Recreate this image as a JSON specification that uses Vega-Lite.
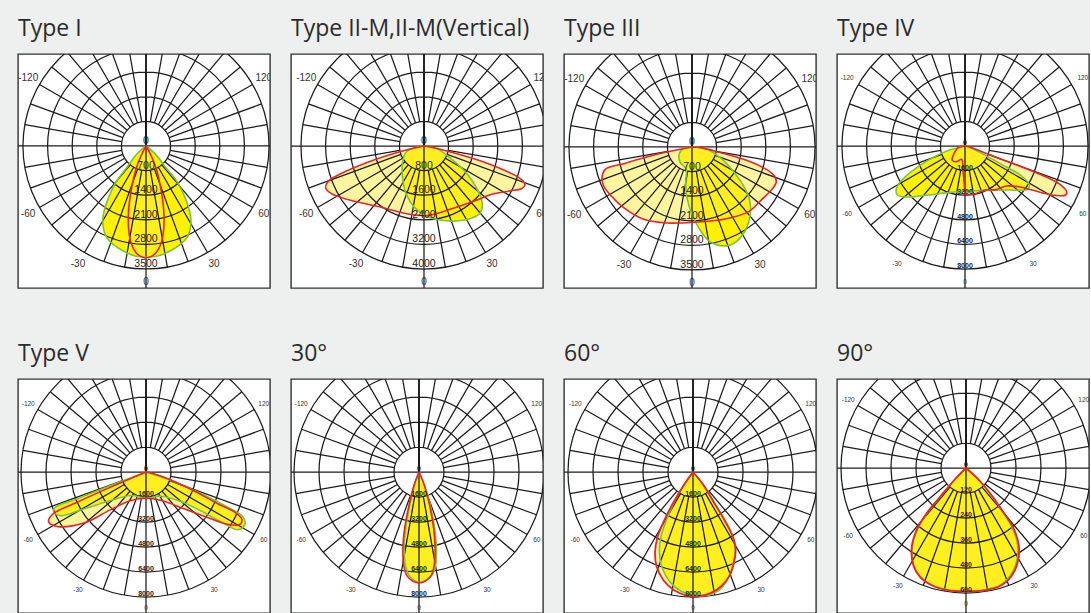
{
"$schema": "https://vega.github.io/schema/vega-lite/v6.json",
"background": "#eeefef",
"padding": {"left": 17, "top": 17, "right": 0, "bottom": 0},
"columns": 4,
"spacing": {"row": 53, "column": 19},
"resolve": {"scale": {"x": "independent", "y": "independent", "theta": "independent", "radius": "independent"}},
"config": {
  "view": {"stroke": "#333333", "strokeWidth": 1.4, "fill": "white"},
  "title": {"anchor": "start", "frame": "group", "fontSize": 23, "font": "Open Sans", "fontWeight": "normal", "color": "#2b2b2b", "offset": 13},
  "text": {"font": "Liberation Sans"}
},
"datasets": {
  "rings": [{"k": 1}, {"k": 2}, {"k": 3}, {"k": 4}, {"k": 5}],
  "spokes": [
    {"a": 0, "r0": 0, "r1": 10}, {"a": 10, "r0": 1, "r1": 5}, {"a": 20, "r0": 1, "r1": 5}, {"a": 30, "r0": 1, "r1": 5}, {"a": 40, "r0": 1, "r1": 5}, {"a": 50, "r0": 1, "r1": 5}, {"a": 60, "r0": 1, "r1": 5}, {"a": 70, "r0": 1, "r1": 5}, {"a": 80, "r0": 1, "r1": 5},
    {"a": 90, "r0": 0, "r1": 10}, {"a": 100, "r0": 1, "r1": 5}, {"a": 110, "r0": 1, "r1": 5}, {"a": 120, "r0": 1, "r1": 5}, {"a": 130, "r0": 1, "r1": 5}, {"a": 140, "r0": 1, "r1": 5}, {"a": 150, "r0": 1, "r1": 5}, {"a": 160, "r0": 1, "r1": 5}, {"a": 170, "r0": 1, "r1": 5},
    {"a": 180, "r0": 0, "r1": 10}, {"a": 190, "r0": 1, "r1": 5}, {"a": 200, "r0": 1, "r1": 5}, {"a": 210, "r0": 1, "r1": 5}, {"a": 220, "r0": 1, "r1": 5}, {"a": 230, "r0": 1, "r1": 5}, {"a": 240, "r0": 1, "r1": 5}, {"a": 250, "r0": 1, "r1": 5}, {"a": 260, "r0": 1, "r1": 5},
    {"a": 270, "r0": 0, "r1": 10}, {"a": 280, "r0": 1, "r1": 5}, {"a": 290, "r0": 1, "r1": 5}, {"a": 300, "r0": 1, "r1": 5}, {"a": 310, "r0": 1, "r1": 5}, {"a": 320, "r0": 1, "r1": 5}, {"a": 330, "r0": 1, "r1": 5}, {"a": 340, "r0": 1, "r1": 5}, {"a": 350, "r0": 1, "r1": 5}
  ],
  "alabels": [
    {"t": "0", "a": 180}, {"t": "-30", "a": 210}, {"t": "30", "a": 150}, {"t": "-60", "a": 240}, {"t": "60", "a": 120},
    {"t": "-120", "a": 300}, {"t": "120", "a": 60}
  ],
  "rlabels": [
    {"p": "I", "k": 0, "t": "0"}, {"p": "I", "k": 1, "t": "700"}, {"p": "I", "k": 2, "t": "1400"}, {"p": "I", "k": 3, "t": "2100"}, {"p": "I", "k": 4, "t": "2800"}, {"p": "I", "k": 5, "t": "3500"},
    {"p": "II", "k": 0, "t": "0"}, {"p": "II", "k": 1, "t": "800"}, {"p": "II", "k": 2, "t": "1600"}, {"p": "II", "k": 3, "t": "2400"}, {"p": "II", "k": 4, "t": "3200"}, {"p": "II", "k": 5, "t": "4000"},
    {"p": "III", "k": 0, "t": "0"}, {"p": "III", "k": 1, "t": "700"}, {"p": "III", "k": 2, "t": "1400"}, {"p": "III", "k": 3, "t": "2100"}, {"p": "III", "k": 4, "t": "2800"}, {"p": "III", "k": 5, "t": "3500"},
    {"p": "IV", "k": 0, "t": "0"}, {"p": "IV", "k": 1, "t": "1600"}, {"p": "IV", "k": 2, "t": "3200"}, {"p": "IV", "k": 3, "t": "4800"}, {"p": "IV", "k": 4, "t": "6400"}, {"p": "IV", "k": 5, "t": "8000"},
    {"p": "V", "k": 0, "t": "0"}, {"p": "V", "k": 1, "t": "1600"}, {"p": "V", "k": 2, "t": "3200"}, {"p": "V", "k": 3, "t": "4800"}, {"p": "V", "k": 4, "t": "6400"}, {"p": "V", "k": 5, "t": "8000"},
    {"p": "30", "k": 0, "t": "0"}, {"p": "30", "k": 1, "t": "1600"}, {"p": "30", "k": 2, "t": "3200"}, {"p": "30", "k": 3, "t": "4800"}, {"p": "30", "k": 4, "t": "6400"}, {"p": "30", "k": 5, "t": "8000"},
    {"p": "60", "k": 0, "t": "0"}, {"p": "60", "k": 1, "t": "1600"}, {"p": "60", "k": 2, "t": "3200"}, {"p": "60", "k": 3, "t": "4800"}, {"p": "60", "k": 4, "t": "6400"}, {"p": "60", "k": 5, "t": "8000"},
    {"p": "90", "k": 0, "t": "0"}, {"p": "90", "k": 1, "t": "120"}, {"p": "90", "k": 2, "t": "240"}, {"p": "90", "k": 3, "t": "360"}, {"p": "90", "k": 4, "t": "480"}, {"p": "90", "k": 5, "t": "600"}
  ],
  "curves": [
    {"p":"I","s":"g","x":0,"y":0},{"p":"I","s":"g","x":-266,"y":-237},{"p":"I","s":"g","x":-550,"y":-617},{"p":"I","s":"g","x":-835,"y":-996},{"p":"I","s":"g","x":-1024,"y":-1375},{"p":"I","s":"g","x":-1167,"y":-1755},{"p":"I","s":"g","x":-1233,"y":-2134},{"p":"I","s":"g","x":-1195,"y":-2419},{"p":"I","s":"g","x":-1119,"y":-2608},{"p":"I","s":"g","x":-930,"y":-2798},{"p":"I","s":"g","x":-645,"y":-2988},{"p":"I","s":"g","x":-313,"y":-3130},{"p":"I","s":"g","x":0,"y":-3159},{"p":"I","s":"g","x":332,"y":-3130},{"p":"I","s":"g","x":683,"y":-2988},{"p":"I","s":"g","x":977,"y":-2798},{"p":"I","s":"g","x":1167,"y":-2608},{"p":"I","s":"g","x":1243,"y":-2419},{"p":"I","s":"g","x":1280,"y":-2134},{"p":"I","s":"g","x":1214,"y":-1755},{"p":"I","s":"g","x":1072,"y":-1375},{"p":"I","s":"g","x":873,"y":-996},{"p":"I","s":"g","x":569,"y":-617},{"p":"I","s":"g","x":275,"y":-237},{"p":"I","s":"g","x":0,"y":0},
    {"p":"I","s":"r","x":0,"y":0},{"p":"I","s":"r","x":-142,"y":-285},{"p":"I","s":"r","x":-285,"y":-664},{"p":"I","s":"r","x":-398,"y":-1138},{"p":"I","s":"r","x":-474,"y":-1612},{"p":"I","s":"r","x":-503,"y":-1992},{"p":"I","s":"r","x":-493,"y":-2371},{"p":"I","s":"r","x":-427,"y":-2751},{"p":"I","s":"r","x":-285,"y":-3035},{"p":"I","s":"r","x":-142,"y":-3149},{"p":"I","s":"r","x":0,"y":-3187},{"p":"I","s":"r","x":142,"y":-3149},{"p":"I","s":"r","x":285,"y":-3035},{"p":"I","s":"r","x":436,"y":-2751},{"p":"I","s":"r","x":503,"y":-2371},{"p":"I","s":"r","x":512,"y":-1992},{"p":"I","s":"r","x":484,"y":-1612},{"p":"I","s":"r","x":408,"y":-1138},{"p":"I","s":"r","x":294,"y":-664},{"p":"I","s":"r","x":152,"y":-285},{"p":"I","s":"r","x":0,"y":0},
    {"p":"II","s":"r","x":0,"y":0},{"p":"II","s":"r","x":-791,"y":-184},{"p":"II","s":"r","x":-1875,"y":-542},{"p":"II","s":"r","x":-2743,"y":-921},{"p":"II","s":"r","x":-3122,"y":-1160},{"p":"II","s":"r","x":-3198,"y":-1355},{"p":"II","s":"r","x":-3014,"y":-1550},{"p":"II","s":"r","x":-2417,"y":-1756},{"p":"II","s":"r","x":-1333,"y":-2005},{"p":"II","s":"r","x":-466,"y":-2222},{"p":"II","s":"r","x":76,"y":-2266},{"p":"II","s":"r","x":618,"y":-2135},{"p":"II","s":"r","x":1268,"y":-1919},{"p":"II","s":"r","x":1702,"y":-1767},{"p":"II","s":"r","x":2135,"y":-1593},{"p":"II","s":"r","x":2786,"y":-1463},{"p":"II","s":"r","x":3165,"y":-1388},{"p":"II","s":"r","x":3285,"y":-1268},{"p":"II","s":"r","x":3165,"y":-1084},{"p":"II","s":"r","x":2786,"y":-867},{"p":"II","s":"r","x":1919,"y":-509},{"p":"II","s":"r","x":835,"y":-184},{"p":"II","s":"r","x":184,"y":-22},{"p":"II","s":"r","x":0,"y":0},
    {"p":"II","s":"g","x":0,"y":0},{"p":"II","s":"g","x":-304,"y":-54},{"p":"II","s":"g","x":-596,"y":-217},{"p":"II","s":"g","x":-705,"y":-596},{"p":"II","s":"g","x":-683,"y":-1138},{"p":"II","s":"g","x":-575,"y":-1572},{"p":"II","s":"g","x":-304,"y":-2005},{"p":"II","s":"g","x":76,"y":-2276},{"p":"II","s":"g","x":509,"y":-2406},{"p":"II","s":"g","x":1051,"y":-2439},{"p":"II","s":"g","x":1539,"y":-2352},{"p":"II","s":"g","x":1832,"y":-2168},{"p":"II","s":"g","x":1897,"y":-1897},{"p":"II","s":"g","x":1810,"y":-1572},{"p":"II","s":"g","x":1572,"y":-1138},{"p":"II","s":"g","x":1268,"y":-759},{"p":"II","s":"g","x":835,"y":-379},{"p":"II","s":"g","x":455,"y":-108},{"p":"II","s":"g","x":0,"y":0},
    {"p":"III","s":"r","x":0,"y":0},{"p":"III","s":"r","x":-996,"y":-209},{"p":"III","s":"r","x":-1944,"y":-474},{"p":"III","s":"r","x":-2466,"y":-636},{"p":"III","s":"r","x":-2561,"y":-873},{"p":"III","s":"r","x":-2514,"y":-1110},{"p":"III","s":"r","x":-2324,"y":-1366},{"p":"III","s":"r","x":-1944,"y":-1726},{"p":"III","s":"r","x":-1375,"y":-2058},{"p":"III","s":"r","x":-711,"y":-2163},{"p":"III","s":"r","x":142,"y":-2134},{"p":"III","s":"r","x":901,"y":-2058},{"p":"III","s":"r","x":1612,"y":-1840},{"p":"III","s":"r","x":1992,"y":-1489},{"p":"III","s":"r","x":2276,"y":-1205},{"p":"III","s":"r","x":2400,"y":-986},{"p":"III","s":"r","x":2305,"y":-778},{"p":"III","s":"r","x":1992,"y":-569},{"p":"III","s":"r","x":1470,"y":-351},{"p":"III","s":"r","x":711,"y":-133},{"p":"III","s":"r","x":237,"y":-19},{"p":"III","s":"r","x":0,"y":0},
    {"p":"III","s":"g","x":0,"y":0},{"p":"III","s":"g","x":-237,"y":-38},{"p":"III","s":"g","x":-370,"y":-209},{"p":"III","s":"g","x":-332,"y":-446},{"p":"III","s":"g","x":-161,"y":-636},{"p":"III","s":"g","x":-180,"y":-967},{"p":"III","s":"g","x":-142,"y":-1442},{"p":"III","s":"g","x":0,"y":-1916},{"p":"III","s":"g","x":237,"y":-2371},{"p":"III","s":"g","x":522,"y":-2703},{"p":"III","s":"g","x":996,"y":-2808},{"p":"III","s":"g","x":1280,"y":-2675},{"p":"III","s":"g","x":1518,"y":-2371},{"p":"III","s":"g","x":1660,"y":-1916},{"p":"III","s":"g","x":1641,"y":-1518},{"p":"III","s":"g","x":1451,"y":-1081},{"p":"III","s":"g","x":1167,"y":-683},{"p":"III","s":"g","x":806,"y":-304},{"p":"III","s":"g","x":427,"y":-66},{"p":"III","s":"g","x":142,"y":0},{"p":"III","s":"g","x":0,"y":0},
    {"p":"IV","s":"g","x":0,"y":0},{"p":"IV","s":"g","x":-1301,"y":-369},{"p":"IV","s":"g","x":-2818,"y":-1192},{"p":"IV","s":"g","x":-3902,"y":-2016},{"p":"IV","s":"g","x":-4444,"y":-2710},{"p":"IV","s":"g","x":-4401,"y":-3187},{"p":"IV","s":"g","x":-3686,"y":-3317},{"p":"IV","s":"g","x":-2385,"y":-3187},{"p":"IV","s":"g","x":-1084,"y":-3035},{"p":"IV","s":"g","x":217,"y":-2927},{"p":"IV","s":"g","x":1518,"y":-2883},{"p":"IV","s":"g","x":2818,"y":-2862},{"p":"IV","s":"g","x":4076,"y":-2818},{"p":"IV","s":"g","x":4184,"y":-2537},{"p":"IV","s":"g","x":3686,"y":-1951},{"p":"IV","s":"g","x":2385,"y":-1192},{"p":"IV","s":"g","x":1084,"y":-477},{"p":"IV","s":"g","x":217,"y":-43},{"p":"IV","s":"g","x":0,"y":0},
    {"p":"IV","s":"r","x":0,"y":0},{"p":"IV","s":"r","x":-434,"y":-108},{"p":"IV","s":"r","x":-780,"y":-650},{"p":"IV","s":"r","x":-824,"y":-932},{"p":"IV","s":"r","x":-542,"y":-1019},{"p":"IV","s":"r","x":-217,"y":-867},{"p":"IV","s":"r","x":-130,"y":-1626},{"p":"IV","s":"r","x":-43,"y":-2493},{"p":"IV","s":"r","x":43,"y":-3144},{"p":"IV","s":"r","x":650,"y":-3100},{"p":"IV","s":"r","x":1301,"y":-2862},{"p":"IV","s":"r","x":1951,"y":-2840},{"p":"IV","s":"r","x":2710,"y":-2602},{"p":"IV","s":"r","x":3469,"y":-2645},{"p":"IV","s":"r","x":4119,"y":-2797},{"p":"IV","s":"r","x":4986,"y":-3035},{"p":"IV","s":"r","x":5854,"y":-3209},{"p":"IV","s":"r","x":6547,"y":-3187},{"p":"IV","s":"r","x":6612,"y":-2970},{"p":"IV","s":"r","x":6179,"y":-2493},{"p":"IV","s":"r","x":4986,"y":-1886},{"p":"IV","s":"r","x":3252,"y":-1192},{"p":"IV","s":"r","x":1518,"y":-542},{"p":"IV","s":"r","x":434,"y":-108},{"p":"IV","s":"r","x":0,"y":0},
    {"p":"V","s":"g","x":0,"y":0},{"p":"V","s":"g","x":-2258,"y":-860},{"p":"V","s":"g","x":-4408,"y":-1720},{"p":"V","s":"g","x":-5805,"y":-2258},{"p":"V","s":"g","x":-5913,"y":-2537},{"p":"V","s":"g","x":-5483,"y":-2795},{"p":"V","s":"g","x":-3978,"y":-2365},{"p":"V","s":"g","x":-2258,"y":-1828},{"p":"V","s":"g","x":-968,"y":-1505},{"p":"V","s":"g","x":0,"y":-1677},{"p":"V","s":"g","x":968,"y":-1548},{"p":"V","s":"g","x":2473,"y":-1978},{"p":"V","s":"g","x":3763,"y":-2623},{"p":"V","s":"g","x":5053,"y":-3333},{"p":"V","s":"g","x":5913,"y":-3698},{"p":"V","s":"g","x":6343,"y":-3333},{"p":"V","s":"g","x":6171,"y":-2838},{"p":"V","s":"g","x":5053,"y":-2150},{"p":"V","s":"g","x":3333,"y":-1290},{"p":"V","s":"g","x":1613,"y":-538},{"p":"V","s":"g","x":323,"y":-108},{"p":"V","s":"g","x":0,"y":0},
    {"p":"V","s":"r","x":0,"y":0},{"p":"V","s":"r","x":-2258,"y":-968},{"p":"V","s":"r","x":-4408,"y":-1935},{"p":"V","s":"r","x":-5956,"y":-2688},{"p":"V","s":"r","x":-6235,"y":-3182},{"p":"V","s":"r","x":-5698,"y":-3483},{"p":"V","s":"r","x":-3978,"y":-3268},{"p":"V","s":"r","x":-2258,"y":-2408},{"p":"V","s":"r","x":-968,"y":-1828},{"p":"V","s":"r","x":0,"y":-1677},{"p":"V","s":"r","x":968,"y":-1828},{"p":"V","s":"r","x":2473,"y":-2365},{"p":"V","s":"r","x":4193,"y":-3010},{"p":"V","s":"r","x":5268,"y":-3354},{"p":"V","s":"r","x":6020,"y":-3354},{"p":"V","s":"r","x":6128,"y":-3010},{"p":"V","s":"r","x":5698,"y":-2580},{"p":"V","s":"r","x":4623,"y":-2043},{"p":"V","s":"r","x":2903,"y":-1118},{"p":"V","s":"r","x":1398,"y":-430},{"p":"V","s":"r","x":323,"y":-65},{"p":"V","s":"r","x":0,"y":0},
    {"p":"30","s":"r","x":0,"y":0},{"p":"30","s":"r","x":-323,"y":-860},{"p":"30","s":"r","x":-645,"y":-2150},{"p":"30","s":"r","x":-925,"y":-3655},{"p":"30","s":"r","x":-1032,"y":-4945},{"p":"30","s":"r","x":-968,"y":-6020},{"p":"30","s":"r","x":-753,"y":-6665},{"p":"30","s":"r","x":-387,"y":-6988},{"p":"30","s":"r","x":0,"y":-7095},{"p":"30","s":"r","x":387,"y":-6988},{"p":"30","s":"r","x":753,"y":-6665},{"p":"30","s":"r","x":968,"y":-6020},{"p":"30","s":"r","x":1032,"y":-4945},{"p":"30","s":"r","x":946,"y":-3655},{"p":"30","s":"r","x":688,"y":-2150},{"p":"30","s":"r","x":344,"y":-860},{"p":"30","s":"r","x":0,"y":0},
    {"p":"30","s":"g","x":0,"y":0},{"p":"30","s":"g","x":-301,"y":-860},{"p":"30","s":"g","x":-602,"y":-2150},{"p":"30","s":"g","x":-860,"y":-3655},{"p":"30","s":"g","x":-946,"y":-4945},{"p":"30","s":"g","x":-860,"y":-6020},{"p":"30","s":"g","x":-602,"y":-6665},{"p":"30","s":"g","x":-215,"y":-6988},{"p":"30","s":"g","x":108,"y":-7052},{"p":"30","s":"g","x":473,"y":-6923},{"p":"30","s":"g","x":860,"y":-6558},{"p":"30","s":"g","x":1075,"y":-5913},{"p":"30","s":"g","x":1118,"y":-4945},{"p":"30","s":"g","x":1011,"y":-3655},{"p":"30","s":"g","x":731,"y":-2150},{"p":"30","s":"g","x":366,"y":-860},{"p":"30","s":"g","x":0,"y":0},
    {"p":"60","s":"r","x":0,"y":0},{"p":"60","s":"r","x":-602,"y":-860},{"p":"60","s":"r","x":-1247,"y":-1935},{"p":"60","s":"r","x":-1849,"y":-3118},{"p":"60","s":"r","x":-2279,"y":-4193},{"p":"60","s":"r","x":-2430,"y":-5160},{"p":"60","s":"r","x":-2322,"y":-6063},{"p":"60","s":"r","x":-1892,"y":-6923},{"p":"60","s":"r","x":-1204,"y":-7568},{"p":"60","s":"r","x":-387,"y":-7912},{"p":"60","s":"r","x":366,"y":-7955},{"p":"60","s":"r","x":1161,"y":-7740},{"p":"60","s":"r","x":1806,"y":-7310},{"p":"60","s":"r","x":2322,"y":-6665},{"p":"60","s":"r","x":2623,"y":-5805},{"p":"60","s":"r","x":2731,"y":-4945},{"p":"60","s":"r","x":2516,"y":-4042},{"p":"60","s":"r","x":1978,"y":-3010},{"p":"60","s":"r","x":1333,"y":-1935},{"p":"60","s":"r","x":688,"y":-860},{"p":"60","s":"r","x":0,"y":0},
    {"p":"60","s":"g","x":0,"y":0},{"p":"60","s":"g","x":-602,"y":-860},{"p":"60","s":"g","x":-1204,"y":-1935},{"p":"60","s":"g","x":-1720,"y":-3118},{"p":"60","s":"g","x":-2064,"y":-4193},{"p":"60","s":"g","x":-2150,"y":-5160},{"p":"60","s":"g","x":-1978,"y":-6128},{"p":"60","s":"g","x":-1505,"y":-6988},{"p":"60","s":"g","x":-753,"y":-7633},{"p":"60","s":"g","x":215,"y":-7912},{"p":"60","s":"g","x":1075,"y":-7848},{"p":"60","s":"g","x":1720,"y":-7525},{"p":"60","s":"g","x":2150,"y":-6988},{"p":"60","s":"g","x":2473,"y":-6235},{"p":"60","s":"g","x":2666,"y":-5375},{"p":"60","s":"g","x":2688,"y":-4730},{"p":"60","s":"g","x":2473,"y":-3978},{"p":"60","s":"g","x":1978,"y":-3010},{"p":"60","s":"g","x":1333,"y":-1935},{"p":"60","s":"g","x":688,"y":-860},{"p":"60","s":"g","x":0,"y":0},
    {"p":"90","s":"r","x":0,"y":0},{"p":"90","s":"r","x":-53,"y":-54},{"p":"90","s":"r","x":-125,"y":-139},{"p":"90","s":"r","x":-194,"y":-224},{"p":"90","s":"r","x":-240,"y":-304},{"p":"90","s":"r","x":-261,"y":-387},{"p":"90","s":"r","x":-253,"y":-467},{"p":"90","s":"r","x":-221,"y":-523},{"p":"90","s":"r","x":-165,"y":-563},{"p":"90","s":"r","x":-85,"y":-587},{"p":"90","s":"r","x":0,"y":-592},{"p":"90","s":"r","x":91,"y":-587},{"p":"90","s":"r","x":171,"y":-563},{"p":"90","s":"r","x":219,"y":-518},{"p":"90","s":"r","x":248,"y":-454},{"p":"90","s":"r","x":254,"y":-374},{"p":"90","s":"r","x":229,"y":-291},{"p":"90","s":"r","x":179,"y":-211},{"p":"90","s":"r","x":123,"y":-131},{"p":"90","s":"r","x":59,"y":-54},{"p":"90","s":"r","x":0,"y":0},
    {"p":"90","s":"g","x":0,"y":0},{"p":"90","s":"g","x":-52,"y":-54},{"p":"90","s":"g","x":-124,"y":-139},{"p":"90","s":"g","x":-192,"y":-224},{"p":"90","s":"g","x":-238,"y":-304},{"p":"90","s":"g","x":-259,"y":-387},{"p":"90","s":"g","x":-251,"y":-467},{"p":"90","s":"g","x":-219,"y":-523},{"p":"90","s":"g","x":-163,"y":-563},{"p":"90","s":"g","x":-84,"y":-586},{"p":"90","s":"g","x":0,"y":-590},{"p":"90","s":"g","x":89,"y":-585},{"p":"90","s":"g","x":167,"y":-561},{"p":"90","s":"g","x":213,"y":-516},{"p":"90","s":"g","x":242,"y":-452},{"p":"90","s":"g","x":248,"y":-374},{"p":"90","s":"g","x":224,"y":-291},{"p":"90","s":"g","x":176,"y":-211},{"p":"90","s":"g","x":121,"y":-131},{"p":"90","s":"g","x":58,"y":-54},{"p":"90","s":"g","x":0,"y":0}
  ]
},
"concat": [
{"title": {"text": "Type I"}, "width": 252, "height": 234, "layer": [
 {"data": {"name": "curves"}, "transform": [{"filter": "datum.p=='I' && datum.s=='g'"}], "mark": {"type": "line", "fill": "#fff200", "strokeOpacity": 0, "interpolate": "catmull-rom", "clip": true},
  "encoding": {"x": {"field": "x", "type": "quantitative", "scale": {"domain": [-3642, 3528], "nice": false, "zero": false}, "axis": null}, "y": {"field": "y", "type": "quantitative", "scale": {"domain": [-4041, 2618], "nice": false, "zero": false}, "axis": null}, "order": {"value": null}}},
 {"data": {"name": "curves"}, "transform": [{"filter": "datum.p=='I' && datum.s=='r'"}], "mark": {"type": "line", "fill": "#ffec3d", "fillOpacity": 0.5, "strokeOpacity": 0, "interpolate": "catmull-rom", "clip": true},
  "encoding": {"x": {"field": "x", "type": "quantitative"}, "y": {"field": "y", "type": "quantitative"}, "order": {"value": null}}},
 {"data": {"name": "rings"}, "mark": {"type": "arc", "filled": false, "stroke": "#1e1b1c", "strokeWidth": 1.25, "clip": true},
  "encoding": {"x": {"datum": 0}, "y": {"datum": 0}, "theta": {"datum": 0, "scale": {"domain": [0, 360], "range": [0, 6.283185]}}, "theta2": {"datum": 360}, "radius": {"field": "k", "type": "quantitative", "stack": null, "scale": {"type": "linear", "domain": [0, 5], "range": [0, 123], "zero": true, "nice": false}}}},
 {"data": {"name": "spokes"}, "mark": {"type": "arc", "filled": false, "stroke": "#1e1b1c", "strokeWidth": 1.25, "clip": true},
  "encoding": {"x": {"datum": 0}, "y": {"datum": 0}, "theta": {"field": "a", "type": "quantitative", "stack": null}, "theta2": {"field": "a"}, "radius": {"field": "r1", "type": "quantitative", "stack": null}, "radius2": {"field": "r0"}}},
 {"data": {"name": "curves"}, "transform": [{"filter": "datum.p=='I' && datum.s=='g'"}], "mark": {"type": "line", "color": "#7cc242", "strokeWidth": 1.6, "interpolate": "catmull-rom", "clip": true},
  "encoding": {"x": {"field": "x", "type": "quantitative"}, "y": {"field": "y", "type": "quantitative"}, "order": {"value": null}}},
 {"data": {"name": "curves"}, "transform": [{"filter": "datum.p=='I' && datum.s=='r'"}], "mark": {"type": "line", "color": "#e8232a", "strokeWidth": 1.6, "interpolate": "catmull-rom", "clip": true},
  "encoding": {"x": {"field": "x", "type": "quantitative"}, "y": {"field": "y", "type": "quantitative"}, "order": {"value": null}}},
 {"data": {"name": "alabels"}, "mark": {"type": "text", "fontSize": 10, "color": "#333333", "clip": true},
  "encoding": {"x": {"datum": 0}, "y": {"datum": 0}, "theta": {"field": "a", "type": "quantitative", "stack": null}, "radius": {"datum": 5.53}, "text": {"field": "t"}}},
 {"data": {"name": "rlabels"}, "transform": [{"filter": "datum.p=='I'"}], "mark": {"type": "text", "fontSize": 10.5, "baseline": "bottom", "color": "#222222", "clip": true},
  "encoding": {"x": {"datum": 0}, "y": {"datum": 0}, "theta": {"datum": 180}, "radius": {"field": "k", "type": "quantitative", "stack": null}, "text": {"field": "t"}}}
]},
{"title": {"text": "Type II-M,II-M(Vertical)"}, "width": 252, "height": 234, "layer": [
 {"data": {"name": "curves"}, "transform": [{"filter": "datum.p=='II' && datum.s=='g'"}], "mark": {"type": "line", "fill": "#fff200", "strokeOpacity": 0, "interpolate": "catmull-rom", "clip": true},
  "encoding": {"x": {"field": "x", "type": "quantitative", "scale": {"domain": [-4325, 3870], "nice": false, "zero": false}, "axis": null}, "y": {"field": "y", "type": "quantitative", "scale": {"domain": [-4618, 2992], "nice": false, "zero": false}, "axis": null}, "order": {"value": null}}},
 {"data": {"name": "curves"}, "transform": [{"filter": "datum.p=='II' && datum.s=='r'"}], "mark": {"type": "line", "fill": "#ffec3d", "fillOpacity": 0.5, "strokeOpacity": 0, "interpolate": "catmull-rom", "clip": true},
  "encoding": {"x": {"field": "x", "type": "quantitative"}, "y": {"field": "y", "type": "quantitative"}, "order": {"value": null}}},
 {"data": {"name": "rings"}, "mark": {"type": "arc", "filled": false, "stroke": "#1e1b1c", "strokeWidth": 1.25, "clip": true},
  "encoding": {"x": {"datum": 0}, "y": {"datum": 0}, "theta": {"datum": 0, "scale": {"domain": [0, 360], "range": [0, 6.283185]}}, "theta2": {"datum": 360}, "radius": {"field": "k", "type": "quantitative", "stack": null, "scale": {"type": "linear", "domain": [0, 5], "range": [0, 123], "zero": true, "nice": false}}}},
 {"data": {"name": "spokes"}, "mark": {"type": "arc", "filled": false, "stroke": "#1e1b1c", "strokeWidth": 1.25, "clip": true},
  "encoding": {"x": {"datum": 0}, "y": {"datum": 0}, "theta": {"field": "a", "type": "quantitative", "stack": null}, "theta2": {"field": "a"}, "radius": {"field": "r1", "type": "quantitative", "stack": null}, "radius2": {"field": "r0"}}},
 {"data": {"name": "curves"}, "transform": [{"filter": "datum.p=='II' && datum.s=='g'"}], "mark": {"type": "line", "color": "#7cc242", "strokeWidth": 1.6, "interpolate": "catmull-rom", "clip": true},
  "encoding": {"x": {"field": "x", "type": "quantitative"}, "y": {"field": "y", "type": "quantitative"}, "order": {"value": null}}},
 {"data": {"name": "curves"}, "transform": [{"filter": "datum.p=='II' && datum.s=='r'"}], "mark": {"type": "line", "color": "#e8232a", "strokeWidth": 1.6, "interpolate": "catmull-rom", "clip": true},
  "encoding": {"x": {"field": "x", "type": "quantitative"}, "y": {"field": "y", "type": "quantitative"}, "order": {"value": null}}},
 {"data": {"name": "alabels"}, "mark": {"type": "text", "fontSize": 10, "color": "#333333", "clip": true},
  "encoding": {"x": {"datum": 0}, "y": {"datum": 0}, "theta": {"field": "a", "type": "quantitative", "stack": null}, "radius": {"datum": 5.53}, "text": {"field": "t"}}},
 {"data": {"name": "rlabels"}, "transform": [{"filter": "datum.p=='II'"}], "mark": {"type": "text", "fontSize": 10.5, "baseline": "bottom", "color": "#222222", "clip": true},
  "encoding": {"x": {"datum": 0}, "y": {"datum": 0}, "theta": {"datum": 180}, "radius": {"field": "k", "type": "quantitative", "stack": null}, "text": {"field": "t"}}}
]},
{"title": {"text": "Type III"}, "width": 252, "height": 234, "layer": [
 {"data": {"name": "curves"}, "transform": [{"filter": "datum.p=='III' && datum.s=='g'"}], "mark": {"type": "line", "fill": "#fff200", "strokeOpacity": 0, "interpolate": "catmull-rom", "clip": true},
  "encoding": {"x": {"field": "x", "type": "quantitative", "scale": {"domain": [-3642, 3528], "nice": false, "zero": false}, "axis": null}, "y": {"field": "y", "type": "quantitative", "scale": {"domain": [-4012, 2646], "nice": false, "zero": false}, "axis": null}, "order": {"value": null}}},
 {"data": {"name": "curves"}, "transform": [{"filter": "datum.p=='III' && datum.s=='r'"}], "mark": {"type": "line", "fill": "#ffec3d", "fillOpacity": 0.5, "strokeOpacity": 0, "interpolate": "catmull-rom", "clip": true},
  "encoding": {"x": {"field": "x", "type": "quantitative"}, "y": {"field": "y", "type": "quantitative"}, "order": {"value": null}}},
 {"data": {"name": "rings"}, "mark": {"type": "arc", "filled": false, "stroke": "#1e1b1c", "strokeWidth": 1.25, "clip": true},
  "encoding": {"x": {"datum": 0}, "y": {"datum": 0}, "theta": {"datum": 0, "scale": {"domain": [0, 360], "range": [0, 6.283185]}}, "theta2": {"datum": 360}, "radius": {"field": "k", "type": "quantitative", "stack": null, "scale": {"type": "linear", "domain": [0, 5], "range": [0, 123], "zero": true, "nice": false}}}},
 {"data": {"name": "spokes"}, "mark": {"type": "arc", "filled": false, "stroke": "#1e1b1c", "strokeWidth": 1.25, "clip": true},
  "encoding": {"x": {"datum": 0}, "y": {"datum": 0}, "theta": {"field": "a", "type": "quantitative", "stack": null}, "theta2": {"field": "a"}, "radius": {"field": "r1", "type": "quantitative", "stack": null}, "radius2": {"field": "r0"}}},
 {"data": {"name": "curves"}, "transform": [{"filter": "datum.p=='III' && datum.s=='g'"}], "mark": {"type": "line", "color": "#7cc242", "strokeWidth": 1.6, "interpolate": "catmull-rom", "clip": true},
  "encoding": {"x": {"field": "x", "type": "quantitative"}, "y": {"field": "y", "type": "quantitative"}, "order": {"value": null}}},
 {"data": {"name": "curves"}, "transform": [{"filter": "datum.p=='III' && datum.s=='r'"}], "mark": {"type": "line", "color": "#e8232a", "strokeWidth": 1.6, "interpolate": "catmull-rom", "clip": true},
  "encoding": {"x": {"field": "x", "type": "quantitative"}, "y": {"field": "y", "type": "quantitative"}, "order": {"value": null}}},
 {"data": {"name": "alabels"}, "mark": {"type": "text", "fontSize": 10, "color": "#333333", "clip": true},
  "encoding": {"x": {"datum": 0}, "y": {"datum": 0}, "theta": {"field": "a", "type": "quantitative", "stack": null}, "radius": {"datum": 5.53}, "text": {"field": "t"}}},
 {"data": {"name": "rlabels"}, "transform": [{"filter": "datum.p=='III'"}], "mark": {"type": "text", "fontSize": 10.5, "baseline": "bottom", "color": "#222222", "clip": true},
  "encoding": {"x": {"datum": 0}, "y": {"datum": 0}, "theta": {"datum": 180}, "radius": {"field": "k", "type": "quantitative", "stack": null}, "text": {"field": "t"}}}
]},
{"title": {"text": "Type IV"}, "width": 252, "height": 234, "layer": [
 {"data": {"name": "curves"}, "transform": [{"filter": "datum.p=='IV' && datum.s=='g'"}], "mark": {"type": "line", "fill": "#fff200", "strokeOpacity": 0, "interpolate": "catmull-rom", "clip": true},
  "encoding": {"x": {"field": "x", "type": "quantitative", "scale": {"domain": [-8325, 8065], "nice": false, "zero": false}, "axis": null}, "y": {"field": "y", "type": "quantitative", "scale": {"domain": [-9236, 5984], "nice": false, "zero": false}, "axis": null}, "order": {"value": null}}},
 {"data": {"name": "curves"}, "transform": [{"filter": "datum.p=='IV' && datum.s=='r'"}], "mark": {"type": "line", "fill": "#ffec3d", "fillOpacity": 0.5, "strokeOpacity": 0, "interpolate": "catmull-rom", "clip": true},
  "encoding": {"x": {"field": "x", "type": "quantitative"}, "y": {"field": "y", "type": "quantitative"}, "order": {"value": null}}},
 {"data": {"name": "rings"}, "mark": {"type": "arc", "filled": false, "stroke": "#1e1b1c", "strokeWidth": 1.25, "clip": true},
  "encoding": {"x": {"datum": 0}, "y": {"datum": 0}, "theta": {"datum": 0, "scale": {"domain": [0, 360], "range": [0, 6.283185]}}, "theta2": {"datum": 360}, "radius": {"field": "k", "type": "quantitative", "stack": null, "scale": {"type": "linear", "domain": [0, 5], "range": [0, 123], "zero": true, "nice": false}}}},
 {"data": {"name": "spokes"}, "mark": {"type": "arc", "filled": false, "stroke": "#1e1b1c", "strokeWidth": 1.25, "clip": true},
  "encoding": {"x": {"datum": 0}, "y": {"datum": 0}, "theta": {"field": "a", "type": "quantitative", "stack": null}, "theta2": {"field": "a"}, "radius": {"field": "r1", "type": "quantitative", "stack": null}, "radius2": {"field": "r0"}}},
 {"data": {"name": "curves"}, "transform": [{"filter": "datum.p=='IV' && datum.s=='g'"}], "mark": {"type": "line", "color": "#7cc242", "strokeWidth": 1.6, "interpolate": "catmull-rom", "clip": true},
  "encoding": {"x": {"field": "x", "type": "quantitative"}, "y": {"field": "y", "type": "quantitative"}, "order": {"value": null}}},
 {"data": {"name": "curves"}, "transform": [{"filter": "datum.p=='IV' && datum.s=='r'"}], "mark": {"type": "line", "color": "#e8232a", "strokeWidth": 1.6, "interpolate": "catmull-rom", "clip": true},
  "encoding": {"x": {"field": "x", "type": "quantitative"}, "y": {"field": "y", "type": "quantitative"}, "order": {"value": null}}},
 {"data": {"name": "alabels"}, "mark": {"type": "text", "fontSize": 6.5, "color": "#333333", "clip": true},
  "encoding": {"x": {"datum": 0}, "y": {"datum": 0}, "theta": {"field": "a", "type": "quantitative", "stack": null}, "radius": {"datum": 5.53}, "text": {"field": "t"}}},
 {"data": {"name": "rlabels"}, "transform": [{"filter": "datum.p=='IV'"}], "mark": {"type": "text", "fontSize": 7, "fontWeight": "bold", "baseline": "bottom", "color": "#222222", "clip": true},
  "encoding": {"x": {"datum": 0}, "y": {"datum": 0}, "theta": {"datum": 180}, "radius": {"field": "k", "type": "quantitative", "stack": null}, "text": {"field": "t"}}}
]},
{"title": {"text": "Type V"}, "width": 252, "height": 234, "layer": [
 {"data": {"name": "curves"}, "transform": [{"filter": "datum.p=='V' && datum.s=='g'"}], "mark": {"type": "line", "fill": "#fff200", "strokeOpacity": 0, "interpolate": "catmull-rom", "clip": true},
  "encoding": {"x": {"field": "x", "type": "quantitative", "scale": {"domain": [-8192, 7936], "nice": false, "zero": false}, "axis": null}, "y": {"field": "y", "type": "quantitative", "scale": {"domain": [-9024, 5952], "nice": false, "zero": false}, "axis": null}, "order": {"value": null}}},
 {"data": {"name": "curves"}, "transform": [{"filter": "datum.p=='V' && datum.s=='r'"}], "mark": {"type": "line", "fill": "#ffec3d", "fillOpacity": 0.5, "strokeOpacity": 0, "interpolate": "catmull-rom", "clip": true},
  "encoding": {"x": {"field": "x", "type": "quantitative"}, "y": {"field": "y", "type": "quantitative"}, "order": {"value": null}}},
 {"data": {"name": "rings"}, "mark": {"type": "arc", "filled": false, "stroke": "#1e1b1c", "strokeWidth": 1.25, "clip": true},
  "encoding": {"x": {"datum": 0}, "y": {"datum": 0}, "theta": {"datum": 0, "scale": {"domain": [0, 360], "range": [0, 6.283185]}}, "theta2": {"datum": 360}, "radius": {"field": "k", "type": "quantitative", "stack": null, "scale": {"type": "linear", "domain": [0, 5], "range": [0, 125], "zero": true, "nice": false}}}},
 {"data": {"name": "spokes"}, "mark": {"type": "arc", "filled": false, "stroke": "#1e1b1c", "strokeWidth": 1.25, "clip": true},
  "encoding": {"x": {"datum": 0}, "y": {"datum": 0}, "theta": {"field": "a", "type": "quantitative", "stack": null}, "theta2": {"field": "a"}, "radius": {"field": "r1", "type": "quantitative", "stack": null}, "radius2": {"field": "r0"}}},
 {"data": {"name": "curves"}, "transform": [{"filter": "datum.p=='V' && datum.s=='g'"}], "mark": {"type": "line", "color": "#7cc242", "strokeWidth": 1.6, "interpolate": "catmull-rom", "clip": true},
  "encoding": {"x": {"field": "x", "type": "quantitative"}, "y": {"field": "y", "type": "quantitative"}, "order": {"value": null}}},
 {"data": {"name": "curves"}, "transform": [{"filter": "datum.p=='V' && datum.s=='r'"}], "mark": {"type": "line", "color": "#e8232a", "strokeWidth": 1.6, "interpolate": "catmull-rom", "clip": true},
  "encoding": {"x": {"field": "x", "type": "quantitative"}, "y": {"field": "y", "type": "quantitative"}, "order": {"value": null}}},
 {"data": {"name": "alabels"}, "mark": {"type": "text", "fontSize": 6.5, "color": "#333333", "clip": true},
  "encoding": {"x": {"datum": 0}, "y": {"datum": 0}, "theta": {"field": "a", "type": "quantitative", "stack": null}, "radius": {"datum": 5.44}, "text": {"field": "t"}}},
 {"data": {"name": "rlabels"}, "transform": [{"filter": "datum.p=='V'"}], "mark": {"type": "text", "fontSize": 7, "fontWeight": "bold", "baseline": "bottom", "color": "#222222", "clip": true},
  "encoding": {"x": {"datum": 0}, "y": {"datum": 0}, "theta": {"datum": 180}, "radius": {"field": "k", "type": "quantitative", "stack": null}, "text": {"field": "t"}}}
]},
{"title": {"text": "30°"}, "width": 252, "height": 234, "layer": [
 {"data": {"name": "curves"}, "transform": [{"filter": "datum.p=='30' && datum.s=='g'"}], "mark": {"type": "line", "fill": "#fff200", "strokeOpacity": 0, "interpolate": "catmull-rom", "clip": true},
  "encoding": {"x": {"field": "x", "type": "quantitative", "scale": {"domain": [-8192, 7936], "nice": false, "zero": false}, "axis": null}, "y": {"field": "y", "type": "quantitative", "scale": {"domain": [-9024, 5952], "nice": false, "zero": false}, "axis": null}, "order": {"value": null}}},
 {"data": {"name": "curves"}, "transform": [{"filter": "datum.p=='30' && datum.s=='r'"}], "mark": {"type": "line", "fill": "#ffec3d", "fillOpacity": 0.5, "strokeOpacity": 0, "interpolate": "catmull-rom", "clip": true},
  "encoding": {"x": {"field": "x", "type": "quantitative"}, "y": {"field": "y", "type": "quantitative"}, "order": {"value": null}}},
 {"data": {"name": "rings"}, "mark": {"type": "arc", "filled": false, "stroke": "#1e1b1c", "strokeWidth": 1.25, "clip": true},
  "encoding": {"x": {"datum": 0}, "y": {"datum": 0}, "theta": {"datum": 0, "scale": {"domain": [0, 360], "range": [0, 6.283185]}}, "theta2": {"datum": 360}, "radius": {"field": "k", "type": "quantitative", "stack": null, "scale": {"type": "linear", "domain": [0, 5], "range": [0, 125], "zero": true, "nice": false}}}},
 {"data": {"name": "spokes"}, "mark": {"type": "arc", "filled": false, "stroke": "#1e1b1c", "strokeWidth": 1.25, "clip": true},
  "encoding": {"x": {"datum": 0}, "y": {"datum": 0}, "theta": {"field": "a", "type": "quantitative", "stack": null}, "theta2": {"field": "a"}, "radius": {"field": "r1", "type": "quantitative", "stack": null}, "radius2": {"field": "r0"}}},
 {"data": {"name": "curves"}, "transform": [{"filter": "datum.p=='30' && datum.s=='g'"}], "mark": {"type": "line", "color": "#7cc242", "strokeWidth": 1.6, "interpolate": "catmull-rom", "clip": true},
  "encoding": {"x": {"field": "x", "type": "quantitative"}, "y": {"field": "y", "type": "quantitative"}, "order": {"value": null}}},
 {"data": {"name": "curves"}, "transform": [{"filter": "datum.p=='30' && datum.s=='r'"}], "mark": {"type": "line", "color": "#e8232a", "strokeWidth": 1.6, "interpolate": "catmull-rom", "clip": true},
  "encoding": {"x": {"field": "x", "type": "quantitative"}, "y": {"field": "y", "type": "quantitative"}, "order": {"value": null}}},
 {"data": {"name": "alabels"}, "mark": {"type": "text", "fontSize": 6.5, "color": "#333333", "clip": true},
  "encoding": {"x": {"datum": 0}, "y": {"datum": 0}, "theta": {"field": "a", "type": "quantitative", "stack": null}, "radius": {"datum": 5.44}, "text": {"field": "t"}}},
 {"data": {"name": "rlabels"}, "transform": [{"filter": "datum.p=='30'"}], "mark": {"type": "text", "fontSize": 7, "fontWeight": "bold", "baseline": "bottom", "color": "#222222", "clip": true},
  "encoding": {"x": {"datum": 0}, "y": {"datum": 0}, "theta": {"datum": 180}, "radius": {"field": "k", "type": "quantitative", "stack": null}, "text": {"field": "t"}}}
]},
{"title": {"text": "60°"}, "width": 252, "height": 234, "layer": [
 {"data": {"name": "curves"}, "transform": [{"filter": "datum.p=='60' && datum.s=='g'"}], "mark": {"type": "line", "fill": "#fff200", "strokeOpacity": 0, "interpolate": "catmull-rom", "clip": true},
  "encoding": {"x": {"field": "x", "type": "quantitative", "scale": {"domain": [-8256, 7872], "nice": false, "zero": false}, "axis": null}, "y": {"field": "y", "type": "quantitative", "scale": {"domain": [-9024, 5952], "nice": false, "zero": false}, "axis": null}, "order": {"value": null}}},
 {"data": {"name": "curves"}, "transform": [{"filter": "datum.p=='60' && datum.s=='r'"}], "mark": {"type": "line", "fill": "#ffec3d", "fillOpacity": 0.5, "strokeOpacity": 0, "interpolate": "catmull-rom", "clip": true},
  "encoding": {"x": {"field": "x", "type": "quantitative"}, "y": {"field": "y", "type": "quantitative"}, "order": {"value": null}}},
 {"data": {"name": "rings"}, "mark": {"type": "arc", "filled": false, "stroke": "#1e1b1c", "strokeWidth": 1.25, "clip": true},
  "encoding": {"x": {"datum": 0}, "y": {"datum": 0}, "theta": {"datum": 0, "scale": {"domain": [0, 360], "range": [0, 6.283185]}}, "theta2": {"datum": 360}, "radius": {"field": "k", "type": "quantitative", "stack": null, "scale": {"type": "linear", "domain": [0, 5], "range": [0, 125], "zero": true, "nice": false}}}},
 {"data": {"name": "spokes"}, "mark": {"type": "arc", "filled": false, "stroke": "#1e1b1c", "strokeWidth": 1.25, "clip": true},
  "encoding": {"x": {"datum": 0}, "y": {"datum": 0}, "theta": {"field": "a", "type": "quantitative", "stack": null}, "theta2": {"field": "a"}, "radius": {"field": "r1", "type": "quantitative", "stack": null}, "radius2": {"field": "r0"}}},
 {"data": {"name": "curves"}, "transform": [{"filter": "datum.p=='60' && datum.s=='g'"}], "mark": {"type": "line", "color": "#7cc242", "strokeWidth": 1.6, "interpolate": "catmull-rom", "clip": true},
  "encoding": {"x": {"field": "x", "type": "quantitative"}, "y": {"field": "y", "type": "quantitative"}, "order": {"value": null}}},
 {"data": {"name": "curves"}, "transform": [{"filter": "datum.p=='60' && datum.s=='r'"}], "mark": {"type": "line", "color": "#e8232a", "strokeWidth": 1.8, "interpolate": "catmull-rom", "clip": true},
  "encoding": {"x": {"field": "x", "type": "quantitative"}, "y": {"field": "y", "type": "quantitative"}, "order": {"value": null}}},
 {"data": {"name": "alabels"}, "mark": {"type": "text", "fontSize": 6.5, "color": "#333333", "clip": true},
  "encoding": {"x": {"datum": 0}, "y": {"datum": 0}, "theta": {"field": "a", "type": "quantitative", "stack": null}, "radius": {"datum": 5.44}, "text": {"field": "t"}}},
 {"data": {"name": "rlabels"}, "transform": [{"filter": "datum.p=='60'"}], "mark": {"type": "text", "fontSize": 7, "fontWeight": "bold", "baseline": "bottom", "color": "#222222", "clip": true},
  "encoding": {"x": {"datum": 0}, "y": {"datum": 0}, "theta": {"datum": 180}, "radius": {"field": "k", "type": "quantitative", "stack": null}, "text": {"field": "t"}}}
]},
{"title": {"text": "90°"}, "width": 252, "height": 234, "layer": [
 {"data": {"name": "curves"}, "transform": [{"filter": "datum.p=='90' && datum.s=='g'"}], "mark": {"type": "line", "fill": "#fff200", "strokeOpacity": 0, "interpolate": "catmull-rom", "clip": true},
  "encoding": {"x": {"field": "x", "type": "quantitative", "scale": {"domain": [-619.2, 590.4], "nice": false, "zero": false}, "axis": null}, "y": {"field": "y", "type": "quantitative", "scale": {"domain": [-696, 427.2], "nice": false, "zero": false}, "axis": null}, "order": {"value": null}}},
 {"data": {"name": "curves"}, "transform": [{"filter": "datum.p=='90' && datum.s=='r'"}], "mark": {"type": "line", "fill": "#ffec3d", "fillOpacity": 0.5, "strokeOpacity": 0, "interpolate": "catmull-rom", "clip": true},
  "encoding": {"x": {"field": "x", "type": "quantitative"}, "y": {"field": "y", "type": "quantitative"}, "order": {"value": null}}},
 {"data": {"name": "rings"}, "mark": {"type": "arc", "filled": false, "stroke": "#1e1b1c", "strokeWidth": 1.25, "clip": true},
  "encoding": {"x": {"datum": 0}, "y": {"datum": 0}, "theta": {"datum": 0, "scale": {"domain": [0, 360], "range": [0, 6.283185]}}, "theta2": {"datum": 360}, "radius": {"field": "k", "type": "quantitative", "stack": null, "scale": {"type": "linear", "domain": [0, 5], "range": [0, 125], "zero": true, "nice": false}}}},
 {"data": {"name": "spokes"}, "mark": {"type": "arc", "filled": false, "stroke": "#1e1b1c", "strokeWidth": 1.25, "clip": true},
  "encoding": {"x": {"datum": 0}, "y": {"datum": 0}, "theta": {"field": "a", "type": "quantitative", "stack": null}, "theta2": {"field": "a"}, "radius": {"field": "r1", "type": "quantitative", "stack": null}, "radius2": {"field": "r0"}}},
 {"data": {"name": "curves"}, "transform": [{"filter": "datum.p=='90' && datum.s=='g'"}], "mark": {"type": "line", "color": "#7cc242", "strokeWidth": 1.6, "interpolate": "catmull-rom", "clip": true},
  "encoding": {"x": {"field": "x", "type": "quantitative"}, "y": {"field": "y", "type": "quantitative"}, "order": {"value": null}}},
 {"data": {"name": "curves"}, "transform": [{"filter": "datum.p=='90' && datum.s=='r'"}], "mark": {"type": "line", "color": "#e8232a", "strokeWidth": 1.8, "interpolate": "catmull-rom", "clip": true},
  "encoding": {"x": {"field": "x", "type": "quantitative"}, "y": {"field": "y", "type": "quantitative"}, "order": {"value": null}}},
 {"data": {"name": "alabels"}, "mark": {"type": "text", "fontSize": 6.5, "color": "#333333", "clip": true},
  "encoding": {"x": {"datum": 0}, "y": {"datum": 0}, "theta": {"field": "a", "type": "quantitative", "stack": null}, "radius": {"datum": 5.44}, "text": {"field": "t"}}},
 {"data": {"name": "rlabels"}, "transform": [{"filter": "datum.p=='90'"}], "mark": {"type": "text", "fontSize": 7, "fontWeight": "bold", "baseline": "bottom", "color": "#222222", "clip": true},
  "encoding": {"x": {"datum": 0}, "y": {"datum": 0}, "theta": {"datum": 180}, "radius": {"field": "k", "type": "quantitative", "stack": null}, "text": {"field": "t"}}}
]}
]
}
